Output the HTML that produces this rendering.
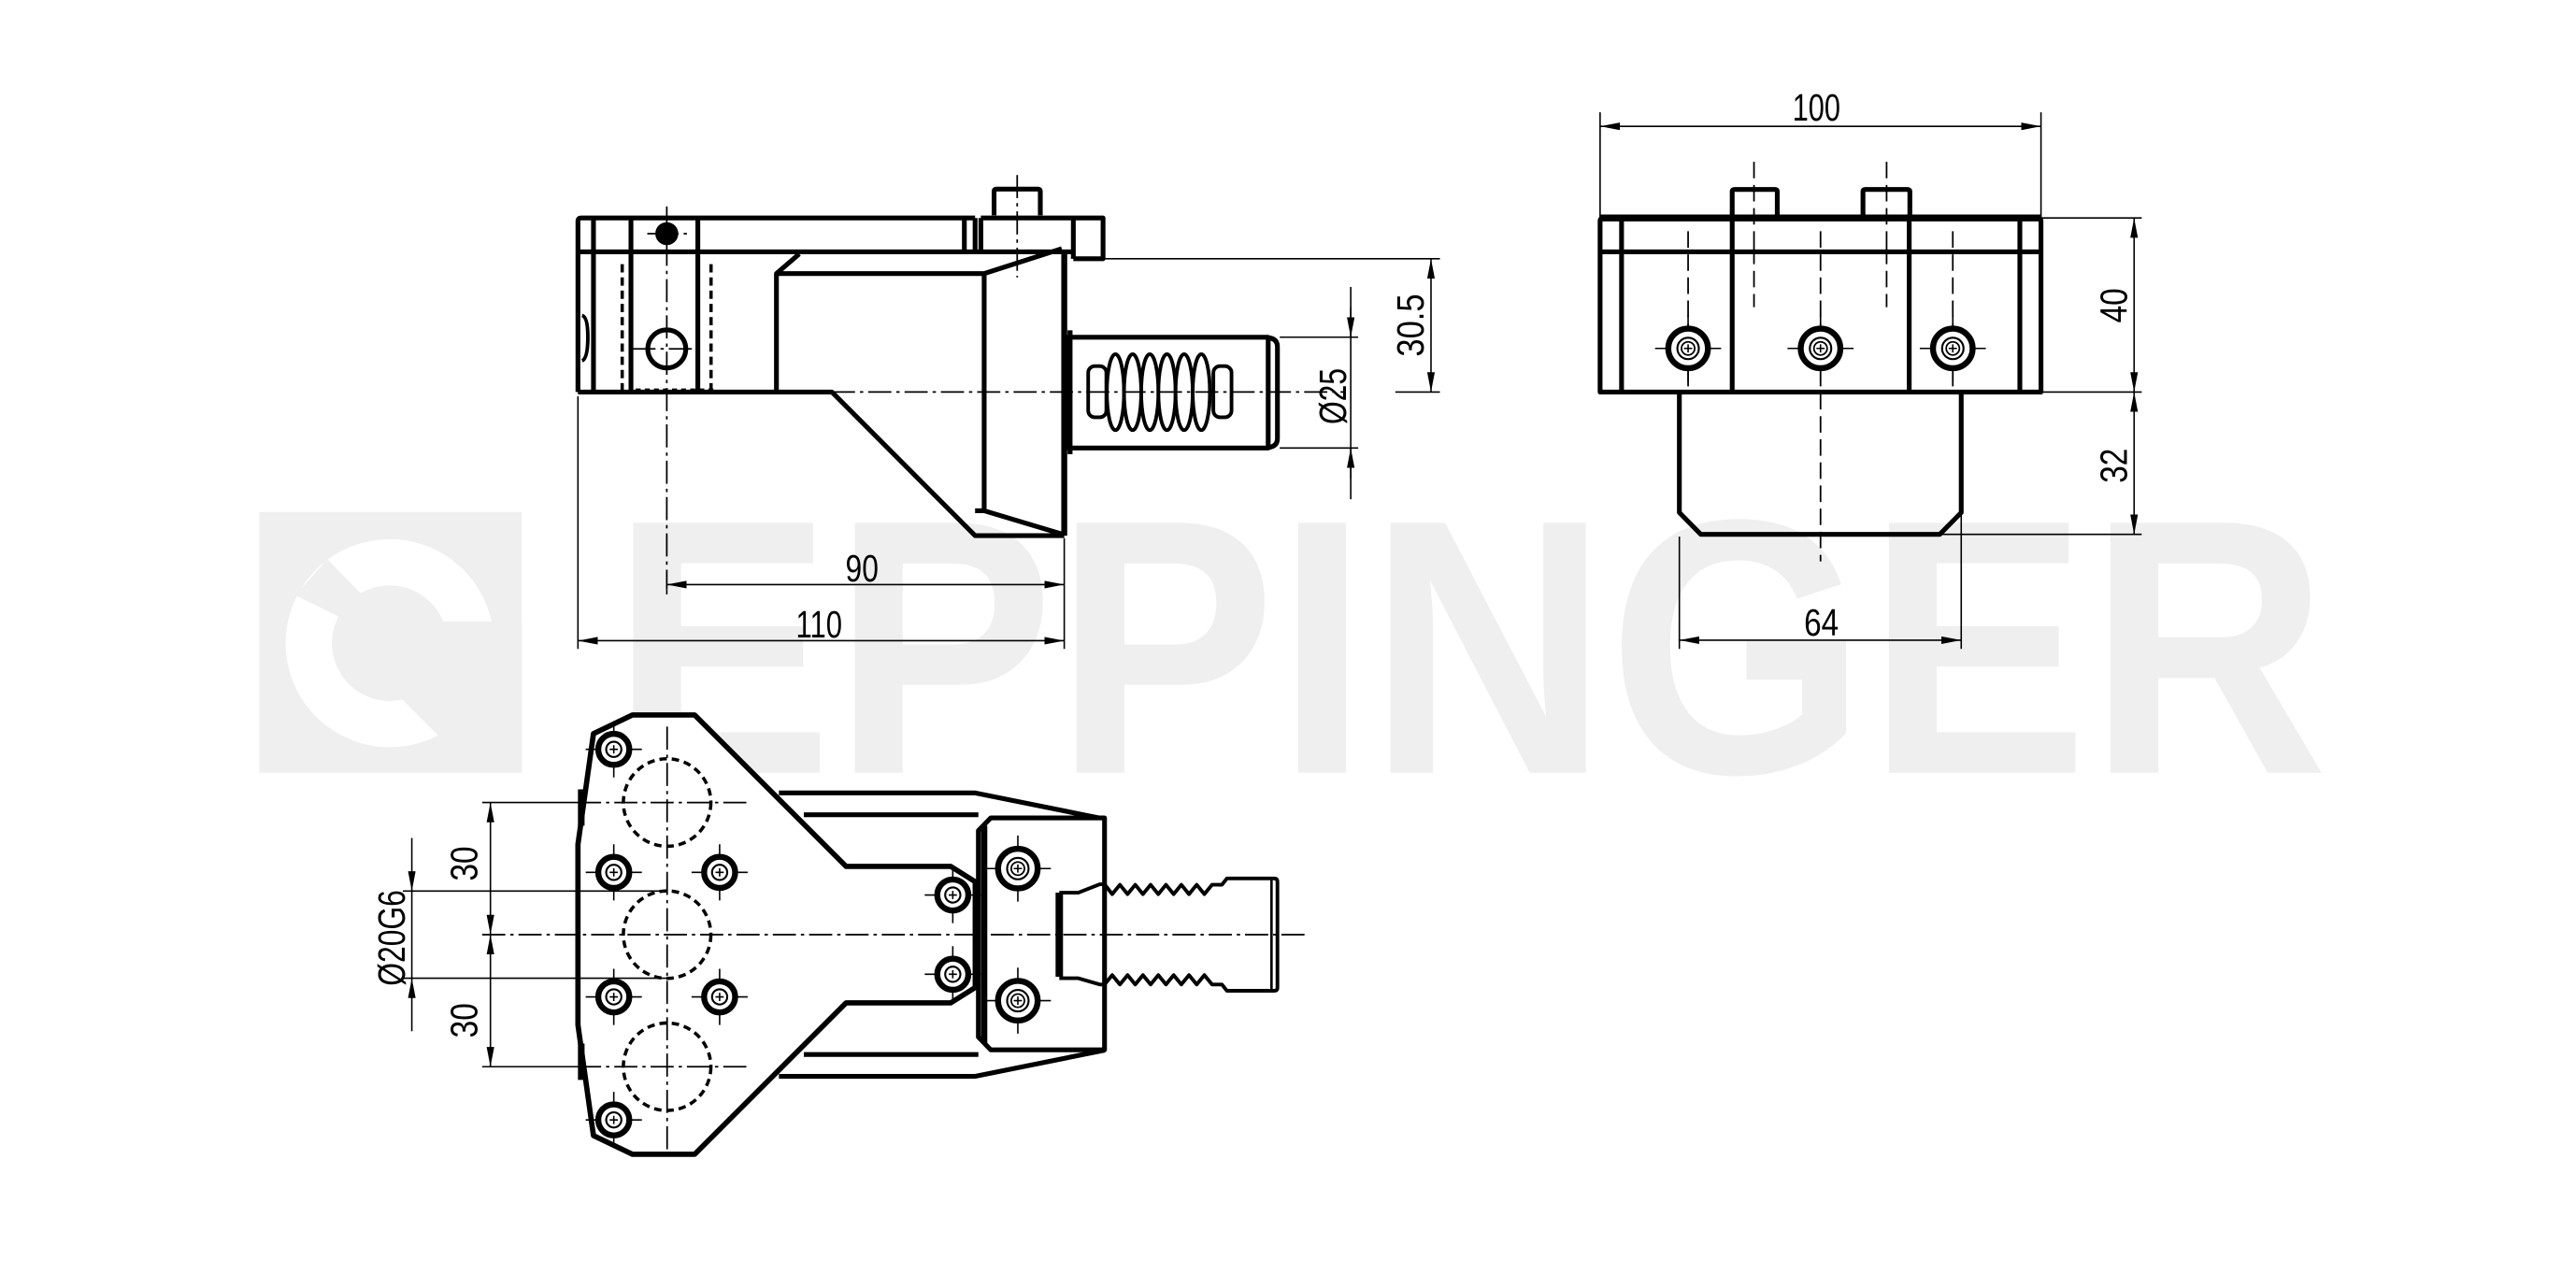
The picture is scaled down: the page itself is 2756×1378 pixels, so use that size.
<!DOCTYPE html>
<html><head><meta charset="utf-8"><style>html,body{margin:0;padding:0;background:#fff}svg{display:block}text{font-family:"Liberation Sans",sans-serif;fill:#000}</style></head>
<body>
<svg xmlns="http://www.w3.org/2000/svg" width="2756" height="1378" viewBox="0 0 1560 780" preserveAspectRatio="none">
<defs>
<marker id="a" markerUnits="userSpaceOnUse" markerWidth="13" markerHeight="6" refX="12" refY="2.3" orient="auto-start-reverse"><path d="M0,0 L12,2.3 L0,4.6 z" fill="#000"/></marker>
<clipPath id="lc"><rect x="157" y="310" width="159" height="158"/></clipPath>
<g id="s"><path d="M-17,0H17M0,-17V17" stroke="#000" stroke-width="0.9"/><circle r="9.4" fill="#fff" stroke="#000" stroke-width="3.6"/><circle r="4.6" fill="none" stroke="#000" stroke-width="1.2"/><path d="M-2.5,0H2.5M0,-2.5V2.5" stroke="#000" stroke-width="0.9"/></g>
<g id="S"><path d="M-20,0H20M0,-20V20" stroke="#000" stroke-width="0.9"/><circle r="12" fill="#fff" stroke="#000" stroke-width="3.6"/><circle r="6.5" fill="none" stroke="#000" stroke-width="1.2"/><circle r="4" fill="none" stroke="#000" stroke-width="1"/><path d="M-2.5,0H2.5M0,-2.5V2.5" stroke="#000" stroke-width="0.9"/></g>
</defs>

<!-- watermark -->
<text x="370" y="468" font-size="220" font-weight="bold" textLength="1040" lengthAdjust="spacingAndGlyphs" style="fill:#efefef">EPPINGER</text>
<g clip-path="url(#lc)">
<rect x="157" y="310" width="159" height="158" fill="#efefef"/>
<circle cx="236" cy="389.5" r="63" fill="#fff"/>
<circle cx="236" cy="389.5" r="35" fill="#efefef"/>
<polygon points="198.3,338.7 235.1,376.4 320,376.4 320,400 259,400 178.8,360.4" fill="#efefef"/>
<polygon points="222,400 320,400 320,500 226,406" fill="#efefef"/>
</g>

<g fill="none" stroke="#000" stroke-width="2.9" stroke-linejoin="round">
<!-- ===== SIDE VIEW ===== -->
<path d="M350,237.4 V134 Q350,132 352,132 H590.5 M594,132 H668 V156.7 H650 M350,152.5 H650"/>
<path d="M359.4,132 V237.4 M382.1,132 V237.4 M422.6,132 V237.4 M584,132 V152.5 M590.5,132 V152.5 M594,132 V152.5 M650,132 V156.7"/>
<path d="M602,130.4 V116 Q602,114.5 603.5,114.5 H628.5 Q630,114.5 630,116 V130.4"/>
<path d="M350,237.4 H503.8 L590.5,324.4 H644.5"/>
<path d="M470.2,237.4 V165.7 L484,153.8 M470.2,165.7 H596 V309.3 H590.5 M596,165.7 L643,150.6 M596,309.3 L643,323.4"/>
<path d="M644.5,152 V324.4" stroke-width="3.6"/>
<rect x="646.5" y="204.2" width="121.5" height="67.1"/>
<path d="M768,204.5 Q773.6,205 773.6,210 V265.5 Q773.6,270.5 768,271"/>
<path d="M648,200 V275" stroke-width="3"/>
<path d="M352.5,191 Q356,192 356,204 Q356,217 352.5,218.5" stroke-width="2.2"/>
<circle cx="403.8" cy="211.3" r="11.5"/>
<circle cx="403.8" cy="141.5" r="5.5" fill="#000"/>
<!-- serration -->
<g stroke-width="2.2">
<rect x="659" y="221.7" width="11" height="31" rx="4"/>
<rect x="734.8" y="221.7" width="11" height="31" rx="4"/>
<ellipse cx="675.5" cy="237.5" rx="5.2" ry="23" fill="#fff"/>
<ellipse cx="685.9" cy="237.5" rx="5.2" ry="23" fill="#fff"/>
<ellipse cx="696.3" cy="237.5" rx="5.2" ry="23" fill="#fff"/>
<ellipse cx="706.7" cy="237.5" rx="5.2" ry="23" fill="#fff"/>
<ellipse cx="717.1" cy="237.5" rx="5.2" ry="23" fill="#fff"/>
<ellipse cx="727.5" cy="237.5" rx="5.2" ry="23" fill="#fff"/>
</g>

<!-- ===== FRONT VIEW ===== -->
<path d="M969,237.4 V134 Q969,132 971,132 H1234 Q1236,132 1236,134 V237.4 Z"/>
<path d="M969,132 H1236" stroke-width="4.2"/>
<path d="M969,152.5 H1236 M982,132 V237.4 M1049,132 V237.4 M1156.2,132 V237.4 M1223.2,132 V237.4"/>
<path d="M1049,130 V116 Q1049,114.7 1050.5,114.7 H1075 Q1076.3,114.7 1076.3,116 V130 M1128.2,130 V116 Q1128.2,114.7 1129.5,114.7 H1155 Q1156.6,114.7 1156.6,116 V130"/>
<path d="M1017,237.4 V310.4 L1030,323.6 H1174.7 L1187.7,310.4 V237.4"/>

<!-- ===== BOTTOM VIEW ===== -->
<path d="M471.7,480.2 H590.6 L668.9,496 M486.8,493.4 H592.5 M471.7,651.8 H590.6 L668.9,636 M486.8,638.6 H592.5"/>
<path d="M383,433 H420.7 L512.4,524.7 H575.8 L590.6,534 V598 L575.8,607.3 H512.4 L420.7,699 H383 L359.4,687.7 L350,620.7 V511.3 L359.4,444.3 Z" fill="#fff" stroke-width="3.2"/>
<path d="M352,478 V500 M352,632 V654" stroke-width="4"/>
<path d="M600,495.3 H668.9 V635.8 H600 L592.5,628 V503 Z" fill="#fff"/>
<path d="M596,500 V632" stroke-width="3.8"/>
<path d="M641.5,540.6 V591.5" stroke-width="4.5"/>
<path d="M641.5,540.6 H653 L666,535.5 H668.9 L673.55,541.5 L678.2,535.8 L682.85,541.5 L687.5,535.8 L692.15,541.5 L696.8,535.8 L701.45,541.5 L706.1,535.8 L710.75,541.5 L715.4,535.8 L720.05,541.5 L724.7,535.8 L729.35,541.5 L734,535.8 H740 L743,532 H771.6 Q773.6,532 773.6,534 V598 Q773.6,600 771.6,600 H743 L740,596.2 H734 L729.35,590.5 L724.7,596.2 L720.05,590.5 L715.4,596.2 L710.75,590.5 L706.1,596.2 L701.45,590.5 L696.8,596.2 L692.15,590.5 L687.5,596.2 L682.85,590.5 L678.2,596.2 L673.55,590.5 L668.9,596.2 H666 L653,592.4 H641.5" stroke-width="2.2"/>
<path d="M770,533 V599" stroke-width="1.5"/>
</g>

<!-- dashed / centre lines -->
<g fill="none" stroke="#000" stroke-width="1">
<path d="M376.8,160 V237 M430.6,160 V237" stroke-dasharray="5 3" stroke-width="2"/>
<path d="M385,236.5 H432" stroke-dasharray="3 2.5" stroke-width="2.5"/>
<path d="M403.8,125 V357 M616,106 V168 M503.8,237.4 H815 M383,211.3 H425 M392,141.5 H416" stroke-dasharray="14 3 2 3"/>
<path d="M1022.3,140 V236 M1102.5,140 V340 M1182.6,140 V236 M1062.2,98 V150 M1142.5,98 V150" stroke-dasharray="10 4"/>
<path d="M1062.2,150 V186 M1142.5,150 V186" stroke-dasharray="10 4"/>
<g stroke-dasharray="4.5 3" stroke-width="2"><circle cx="404" cy="486" r="26.5"/><circle cx="404" cy="566" r="26.5"/><circle cx="404" cy="646" r="26.5"/></g>
<path d="M404,440 V700 M350,486 H452 M350,646 H452 M292,566 H790" stroke-dasharray="14 3 2 3"/>
</g>

<!-- screws -->
<use href="#S" x="1022.3" y="211"/><use href="#S" x="1102.5" y="211"/><use href="#S" x="1182.6" y="211"/>
<use href="#s" x="371.7" y="453.8"/><use href="#s" x="371.7" y="528.3"/><use href="#s" x="371.7" y="603.7"/><use href="#s" x="371.7" y="678.2"/>
<use href="#s" x="435.8" y="528.3"/><use href="#s" x="435.8" y="603.7"/>
<use href="#s" x="577" y="542"/><use href="#s" x="577" y="590"/>
<use href="#S" x="616.4" y="526"/><use href="#S" x="616.4" y="606"/>

<!-- dimensions -->
<g fill="none" stroke="#000" stroke-width="0.9">
<path d="M668,156.7 H872 M845,237.4 H872 M775,204.2 H822.5 M775,271.3 H822.5 M818,173.8 V302.3 M350,240 V393 M644.5,326 V393 M403.8,357 V360"/>
<path d="M866.6,156.7 V237.4" marker-start="url(#a)" marker-end="url(#a)"/>
<path d="M818,186 V204.2" marker-end="url(#a)"/><path d="M818,290 V271.3" marker-end="url(#a)"/>
<path d="M403.8,354 H644.5" marker-start="url(#a)" marker-end="url(#a)"/>
<path d="M350,388 H644.5" marker-start="url(#a)" marker-end="url(#a)"/>
<path d="M969,68 V132 M1236,68 V132 M1236,132 H1297 M1236,237.4 H1297 M1174.7,323.6 H1297 M1017,325 V393 M1187.7,312 V393"/>
<path d="M969,76.5 H1236" marker-start="url(#a)" marker-end="url(#a)"/>
<path d="M1292.4,132 V237.4" marker-start="url(#a)" marker-end="url(#a)"/>
<path d="M1292.4,237.4 V323.6" marker-start="url(#a)" marker-end="url(#a)"/>
<path d="M1017,387.7 H1187.7" marker-start="url(#a)" marker-end="url(#a)"/>
<path d="M292,486 H352 M292,646 H352 M244,539.6 H404 M244,592.4 H404"/>
<path d="M297,486 V566" marker-start="url(#a)" marker-end="url(#a)"/>
<path d="M297,566 V646" marker-start="url(#a)" marker-end="url(#a)"/>
<path d="M249.4,507.5 V539.6" marker-end="url(#a)"/><path d="M249.4,624.5 V592.4" marker-end="url(#a)"/>
<path d="M249.4,539.6 V592.4"/>
</g>

<!-- labels -->
<g font-size="23">
<text x="522" y="352" text-anchor="middle" textLength="20" lengthAdjust="spacingAndGlyphs">90</text>
<text x="496" y="386" text-anchor="middle" textLength="28" lengthAdjust="spacingAndGlyphs">110</text>
<text x="1100" y="73" text-anchor="middle" textLength="29" lengthAdjust="spacingAndGlyphs">100</text>
<text x="1103" y="385" text-anchor="middle" textLength="21" lengthAdjust="spacingAndGlyphs">64</text>
<text transform="translate(862,197) rotate(-90)" text-anchor="middle" textLength="38" lengthAdjust="spacingAndGlyphs">30.5</text>
<text transform="translate(815,240) rotate(-90)" text-anchor="middle" textLength="34" lengthAdjust="spacingAndGlyphs">Ø25</text>
<text transform="translate(1288,185) rotate(-90)" text-anchor="middle" textLength="21" lengthAdjust="spacingAndGlyphs">40</text>
<text transform="translate(1288,282) rotate(-90)" text-anchor="middle" textLength="21" lengthAdjust="spacingAndGlyphs">32</text>
<text transform="translate(289,523) rotate(-90)" text-anchor="middle" textLength="21" lengthAdjust="spacingAndGlyphs">30</text>
<text transform="translate(289,618) rotate(-90)" text-anchor="middle" textLength="21" lengthAdjust="spacingAndGlyphs">30</text>
<text transform="translate(245,568) rotate(-90)" text-anchor="middle" textLength="58" lengthAdjust="spacingAndGlyphs">Ø20G6</text>
</g>
</svg>
</body></html>
